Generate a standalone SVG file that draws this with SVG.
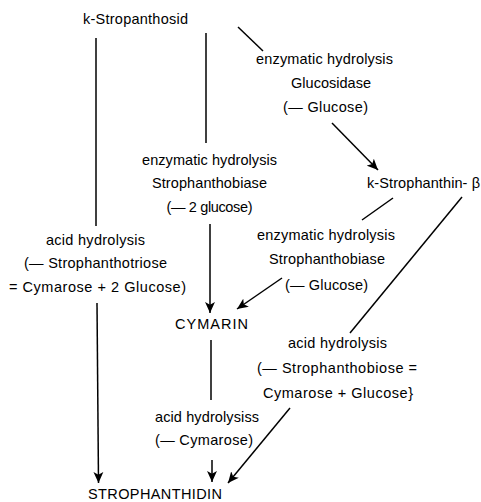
<svg xmlns="http://www.w3.org/2000/svg" width="481" height="502" viewBox="0 0 481 502">
<style>
  text { font-family: "Liberation Sans", Arial, sans-serif; font-size: 14.5px; fill: #000; text-anchor: middle; }
  .ln { stroke: #000; stroke-width: 1.5; fill: none; }
</style>
<defs>
  <marker id="ah" markerUnits="userSpaceOnUse" markerWidth="11" markerHeight="11" viewBox="0 0 10 10" refX="10" refY="5" orient="auto">
    <path d="M0,0.5 L10,5 L0,9.5 L2.5,5 z" fill="#000"/>
  </marker>
</defs>
<rect width="481" height="502" fill="#fff"/>

<g id="connectors">
  <line class="ln" x1="96" y1="38" x2="96" y2="226"/>
  <line class="ln" x1="97" y1="303" x2="98.5" y2="483" marker-end="url(#ah)"/>
  <line class="ln" x1="206" y1="33" x2="206" y2="143"/>
  <line class="ln" x1="210" y1="224" x2="210" y2="313" marker-end="url(#ah)"/>
  <line class="ln" x1="211" y1="340" x2="211" y2="400"/>
  <line class="ln" x1="212" y1="460" x2="212" y2="482" marker-end="url(#ah)"/>
  <line class="ln" x1="238" y1="27" x2="263" y2="51"/>
  <line class="ln" x1="332" y1="123" x2="378" y2="170" marker-end="url(#ah)"/>
  <line class="ln" x1="393" y1="198" x2="362" y2="220"/>
  <line class="ln" x1="282" y1="278" x2="237" y2="309" marker-end="url(#ah)"/>
  <line class="ln" x1="462" y1="197" x2="350" y2="333"/>
  <line class="ln" x1="290" y1="408" x2="228" y2="483" marker-end="url(#ah)"/>
</g>

<g id="k-stropanthosid"><text x="135.5" y="24" textLength="105">k-Stropanthosid</text></g>
<g id="label-glucosidase">
  <text x="324.5" y="64" textLength="137">enzymatic hydrolysis</text>
  <text x="331" y="88" textLength="80">Glucosidase</text>
  <text x="325.5" y="112" textLength="85">(— Glucose)</text>
</g>
<g id="label-strophanthobiase-1">
  <text x="209.5" y="165" textLength="135">enzymatic hydrolysis</text>
  <text x="209.5" y="188" textLength="115">Strophanthobiase</text>
  <text x="209.5" y="212" textLength="86">(— 2 glucose)</text>
</g>
<g id="k-strophanthin-beta"><text x="423.5" y="188" textLength="113">k-Strophanthin- β</text></g>
<g id="label-strophanthobiase-2">
  <text x="326" y="240" textLength="138">enzymatic hydrolysis</text>
  <text x="327" y="264" textLength="116">Strophanthobiase</text>
  <text x="326.5" y="290" textLength="83">(— Glucose)</text>
</g>
<g id="label-acid-left">
  <text x="95.5" y="245" textLength="99">acid hydrolysis</text>
  <text x="95.5" y="268" textLength="143">(— Strophanthotriose</text>
  <text x="97.5" y="292" textLength="177">= Cymarose + 2 Glucose)</text>
</g>
<g id="cymarin"><text x="211.5" y="329" textLength="73">CYMARIN</text></g>
<g id="label-acid-right">
  <text x="337.5" y="348" textLength="99">acid hydrolysis</text>
  <text x="337" y="373" textLength="160">(— Strophanthobiose =</text>
  <text x="338" y="398" textLength="150">Cymarose + Glucose}</text>
</g>
<g id="label-acid-cymarose">
  <text x="207" y="422" textLength="104">acid hydrolysiss</text>
  <text x="204" y="445" textLength="98">(— Cymarose)</text>
</g>
<g id="strophanthidin"><text x="155" y="499" textLength="134">STROPHANTHIDIN</text></g>
</svg>
